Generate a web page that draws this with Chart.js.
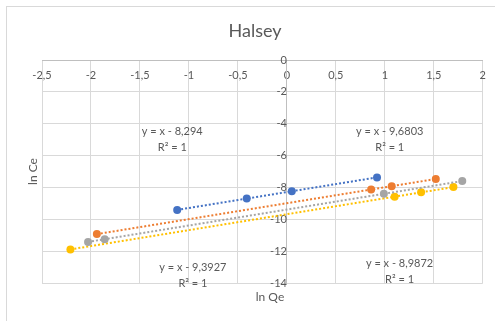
<!DOCTYPE html>
<html>
<head>
<meta charset="utf-8">
<script src="https://cdn.jsdelivr.net/npm/chart.js@4/dist/chart.umd.min.js"></script>
<style>
  html, body { margin: 0; padding: 0; background: #ffffff; }
  #wrap { width: 495px; height: 321px; }
</style>
</head>
<body>
<div id="wrap"><canvas id="halsey-chart" width="495" height="321"></canvas></div>
<script>
// ln Qe / ln Ce values
const blueX = [-1.12, -0.41, 0.05, 0.92];
const blueY = [-9.41, -8.70, -8.24, -7.37];
const orangeX = [-1.94, 0.86, 1.07, 1.52];
const orangeY = [-10.93, -8.13, -7.92, -7.47];
const grayX = [-2.03, -1.86, 0.99, 1.79];
const grayY = [-11.42, -11.25, -8.40, -7.60];
const yellowX = [-2.21, 1.10, 1.37, 1.70];
const yellowY = [-11.89, -8.58, -8.31, -7.98];

const seriesColors = ['#4472C4', '#ED7D31', '#A5A5A5', '#FFC000'];
const equations = ['y = x - 8,294', 'y = x - 8,9872', 'y = x - 9,3927', 'y = x - 9,6803'];

const xTickMin = -2.5, xTickMax = 2, xStep = 0.5;
const yTickMin = -14, yTickMax = 0, yStep = 2;

const textColor = '#595959';
const fontName = 'Lato, "Open Sans", sans-serif';

function toPoints(xs, ys) {
    return xs.map(function(x, i) { return { x: x, y: ys[i] }; });
}

function makeSeries(label, xs, ys, color) {
    return {
        label: label,
        data: toPoints(xs, ys),
        showLine: true,
        borderColor: color,
        borderWidth: 2,
        borderDash: [2, 2],
        backgroundColor: color,
        pointBackgroundColor: color,
        pointBorderColor: color,
        pointRadius: 4,
        pointBorderWidth: 0
    };
}

// equation labels sit in data coordinates (same place Excel put them)
const labelSpots = [
    { text: equations[0], x: -1.17, y: -4.5 },
    { text: equations[3], x: 1.05, y: -4.5 },
    { text: equations[2], x: -0.96, y: -13.0 },
    { text: equations[1], x: 1.15, y: -12.75 }
];

const extrasPlugin = {
    id: 'extras',
    afterDraw: function(chart) {
        const ctx = chart.ctx;
        const area = chart.chartArea;
        const xs = chart.scales.x;
        const ys = chart.scales.y;
        ctx.save();

        // outer frame
        ctx.strokeStyle = '#d9d9d9';
        ctx.lineWidth = 1;
        ctx.strokeRect(6.5, 6.5, chart.width, chart.height);

        ctx.fillStyle = textColor;
        ctx.textAlign = 'center';
        ctx.textBaseline = 'middle';

        // title
        ctx.font = '18px ' + fontName;
        ctx.fillText('Halsey', 255, 31);

        // axis titles
        ctx.font = '12px ' + fontName;
        ctx.fillText('ln Qe', 270, 297);
        ctx.save();
        ctx.translate(33, (area.top + area.bottom) / 2 + 0);
        ctx.rotate(-Math.PI / 2);
        ctx.fillText('ln Ce', 0, 0);
        ctx.restore();

        // trendline labels
        ctx.font = '11px ' + fontName;
        labelSpots.forEach(function(s) {
            const px = xs.getPixelForValue(s.x);
            const py = ys.getPixelForValue(s.y);
            ctx.fillText(s.text, px, py);
            ctx.fillText('R\u00B2 = 1', px, py + 16);
        });
        ctx.restore();
    }
};

const tickFormat = function(v) {
    return String(Math.round(v * 10) / 10).replace('.', ',');
};

const ctx = document.getElementById('halsey-chart').getContext('2d');
new Chart(ctx, {
    type: 'scatter',
    data: {
        datasets: [
            makeSeries('Series1', blueX, blueY, seriesColors[0]),
            makeSeries('Series2', orangeX, orangeY, seriesColors[1]),
            makeSeries('Series3', grayX, grayY, seriesColors[2]),
            makeSeries('Series4', yellowX, yellowY, seriesColors[3])
        ]
    },
    options: {
        responsive: false,
        animation: false,
        layout: {
            padding: { left: 42, top: 60, right: 11, bottom: 38 }
        },
        plugins: {
            legend: { display: false },
            title: { display: false },
            tooltip: { enabled: false }
        },
        scales: {
            x: {
                type: 'linear',
                position: { y: 0 },
                min: xTickMin,
                max: xTickMax,
                ticks: {
                    stepSize: xStep,
                    color: textColor,
                    padding: 9,
                    font: { family: fontName, size: 11 },
                    callback: tickFormat
                },
                grid: { color: '#d9d9d9', drawTicks: false },
                border: { color: '#bfbfbf' }
            },
            y: {
                type: 'linear',
                position: { x: 0 },
                min: yTickMin,
                max: yTickMax,
                ticks: {
                    stepSize: yStep,
                    color: textColor,
                    padding: 9,
                    font: { family: fontName, size: 11 },
                    callback: tickFormat
                },
                grid: { color: '#d9d9d9', drawTicks: false },
                border: { color: '#bfbfbf' }
            }
        }
    },
    plugins: [extrasPlugin]
});
</script>
</body>
</html>
